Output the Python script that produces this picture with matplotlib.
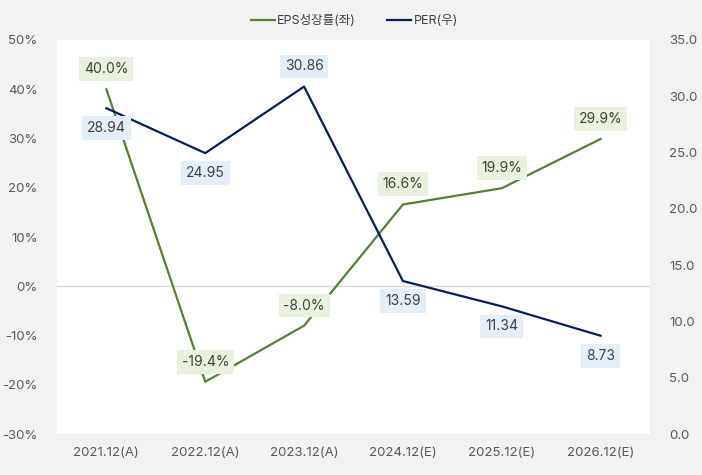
import matplotlib.pyplot as plt
from matplotlib.ticker import FuncFormatter

plt.rcParams['font.family'] = ['Inter', 'Noto Sans CJK KR', 'DejaVu Sans']

# data
periods = ['2021.12(A)', '2022.12(A)', '2023.12(A)', '2024.12(E)', '2025.12(E)', '2026.12(E)']
eps_growth = [40.0, -19.4, -8.0, 16.6, 19.9, 29.9]
per = [28.94, 24.95, 30.86, 13.59, 11.34, 8.73]
per_label_above = [False, False, True, False, False, False]

green = '#548235'
navy = '#002060'
tick_col = '#595959'
text_col = '#404040'

fig = plt.figure(figsize=(7.02, 4.75), dpi=100, facecolor='#F2F2F2')
ax = fig.add_axes([0.0812, 0.0863, 0.8447, 0.8295])
ax.set_facecolor('white')
ax2 = ax.twinx()

x = list(range(len(periods)))
l1, = ax.plot(x, eps_growth, color=green, lw=1.6, label='EPS성장률(좌)', zorder=3)
l2, = ax2.plot(x, per, color=navy, lw=1.6, label='PER(우)', zorder=3)

ax.set_xlim(-0.5, len(periods) - 0.5)
ax.set_ylim(-30, 50)
ax.set_yticks(range(-30, 51, 10))
ax.yaxis.set_major_formatter(FuncFormatter(lambda v, p: f'{v:.0f}%'))
ax2.set_ylim(0, 35)
ax2.set_yticks([0, 5, 10, 15, 20, 25, 30, 35])
ax2.yaxis.set_major_formatter(FuncFormatter(lambda v, p: f'{v:.1f}'))
ax.set_xticks(x)
ax.set_xticklabels(periods)

ax.axhline(0, color='#D9D9D9', lw=1, zorder=1)

for a in (ax, ax2):
    for s in a.spines.values():
        s.set_visible(False)
    a.tick_params(length=0, labelsize=9.5, colors=tick_col)
ax.tick_params(axis='y', pad=14)
ax2.tick_params(axis='y', pad=14)
ax.tick_params(axis='x', pad=9)

# data labels
for i, v in enumerate(eps_growth):
    ax.annotate(f'{v:.1f}%', (i, v), xytext=(0, 14.5), textcoords='offset points',
                ha='center', va='center', fontsize=10, color=text_col, zorder=5,
                bbox=dict(boxstyle='square,pad=0.35', fc='#E8F2DF', ec='none'))
for i, v in enumerate(per):
    dy = 14.5 if per_label_above[i] else -14.5
    ax2.annotate(f'{v:.2f}', (i, v), xytext=(0, dy), textcoords='offset points',
                 ha='center', va='center', fontsize=10, color=text_col, zorder=5,
                 bbox=dict(boxstyle='square,pad=0.35', fc='#E3EEF9', ec='none'))

fig.legend(handles=[l1, l2], loc='center', bbox_to_anchor=(0.505, 0.956), ncol=2,
           frameon=False, fontsize=9, labelcolor=text_col, handlelength=1.9,
           handletextpad=0.2, columnspacing=2.5)

fig.savefig('out.png', dpi=100, facecolor=fig.get_facecolor())
